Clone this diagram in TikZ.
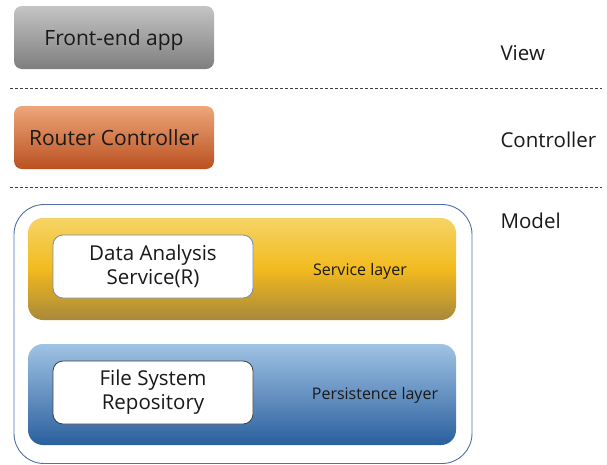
\documentclass[tikz,border=0pt]{standalone}
\usepackage{fontspec}
\setmainfont{Open Sans}
\usetikzlibrary{positioning}
\definecolor{grayTop}{HTML}{C4C4C4}
\definecolor{grayBot}{HTML}{7E7E7E}
\definecolor{orgTop}{HTML}{EDA77A}
\definecolor{orgBot}{HTML}{BA5020}
\definecolor{yelTop}{HTML}{F6D466}
\definecolor{yelMid}{HTML}{F2BA1E}
\definecolor{yelBot}{HTML}{A8883A}
\definecolor{bluTop}{HTML}{A0C3E4}
\definecolor{bluBot}{HTML}{2A5F9E}
\definecolor{frameBlue}{HTML}{4F6FA6}
\definecolor{dashGray}{HTML}{404040}
\begin{document}
\begin{tikzpicture}[x=1pt,y=-1pt,
  tierbox/.style={rounded corners=8pt, minimum width=200pt, minimum height=63pt,
    text depth=0pt, font=\fontsize{21}{24}\selectfont, text=black!90},
  innerbox/.style={rounded corners=10pt, fill=white, minimum width=200pt,
    minimum height=63pt, align=center, font=\fontsize{20.5}{24}\selectfont, line width=0.8pt, text=black!90},
  layerlabel/.style={font=\fontsize{16}{18}\selectfont, text=black!90},
  tierlabel/.style={font=\fontsize{20.5}{22}\selectfont, anchor=west, text=black!90},
  sep/.style={dashGray, line width=0.8pt, dash pattern=on 3pt off 2pt}]
\useasboundingbox (0,0) rectangle (607,464);
% view tier
\node[tierbox, top color=grayTop, bottom color=grayBot] (front) at (114,37.5) {Front-end app};
\node[tierlabel] (view) at (497,53) {View};
\coordinate (s1a) at (10,88);
\coordinate (s1b) at (602,88);
\draw[sep] (s1a) -- (s1b);
% controller tier
\node[tierbox, top color=orgTop, bottom color=orgBot] (router) at (114,137.5) {Router Controller};
\node[tierlabel] (ctrl) at (497,140) {Controller};
\coordinate (s2a) at (10,187);
\coordinate (s2b) at (602,187);
\draw[sep] (s2a) -- (s2b);
% model tier
\node[tierlabel] (model) at (497,221) {Model};
\node[draw=frameBlue, line width=0.9pt, rounded corners=30pt, minimum width=458pt, minimum height=259pt] (frame) at (243,334) {};
\shade[rounded corners=15pt, top color=yelTop, bottom color=yelBot, middle color=yelMid]
  (28,218) rectangle (456,320);
\node[layerlabel] (svc) at (360,271) {Service layer};
\node[innerbox, draw=frameBlue!80] (das) at (153,266.5) {Data Analysis\\Service(R)};
\shade[rounded corners=15pt, top color=bluTop, bottom color=bluBot]
  (28,344) rectangle (456,445);
\node[layerlabel] (pers) at (375,395) {Persistence layer};
\node[innerbox, draw=black!75] (fsr) at (153,392.5) {File System\\Repository};
\end{tikzpicture}
\end{document}
